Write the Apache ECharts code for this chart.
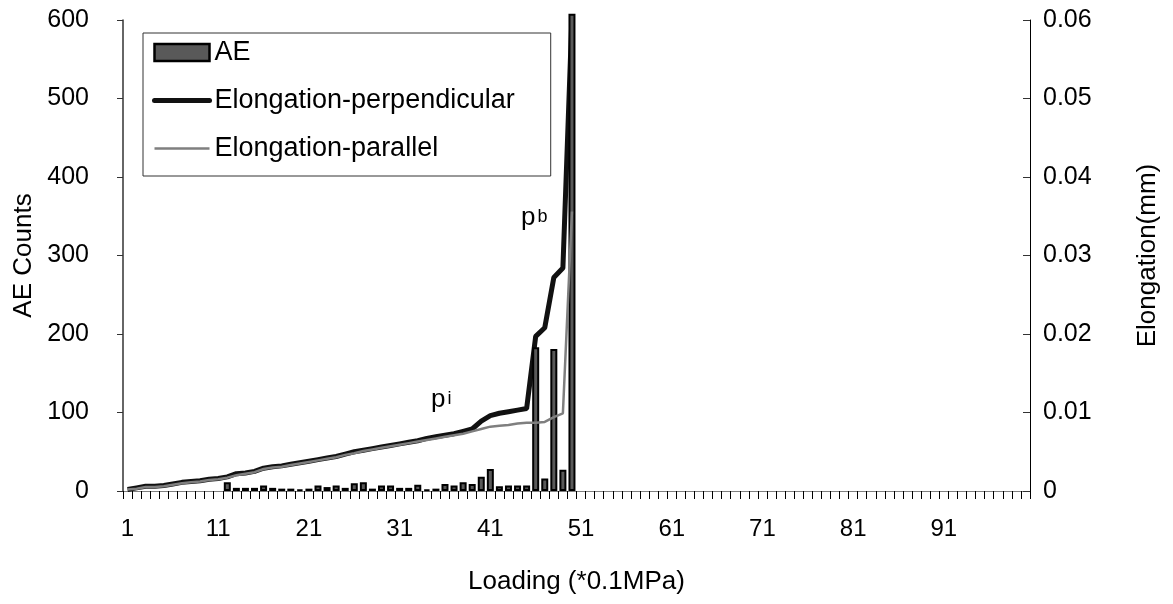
<!DOCTYPE html>
<html>
<head>
<meta charset="utf-8">
<script src="https://cdn.jsdelivr.net/npm/echarts@6/dist/echarts.min.js"></script>
<style>
    html, body {margin: 0; padding: 0; background: #fff;}
    #main {width: 1173px; height: 604px;}
</style>
</head>
<body>
<div id="main"></div>
<script>
// loading steps 1..100 (*0.1MPa)
var loading = [];
for (var i = 1; i <= 100; i++) loading.push(String(i));

// AE counts per loading step (steps 1-50), no bar drawn for steps 1-11
var aeCounts = [null, null, null, null, null, null, null, null, null, null,
    null, 11, 4, 4, 4, 7, 4, 3, 3, 2,
    3, 7, 5, 7, 4, 10, 11, 3, 7, 7,
    4, 4, 8, 2, 3, 9, 7, 11, 9, 18,
    28, 6, 7, 7, 7, 183, 16, 181, 27, 608];

// elongation (mm)
var elongPerp = [0.0002, 0.0004, 0.0006, 0.0006, 0.0007, 0.0009, 0.0011, 0.0012, 0.0013, 0.0015,
    0.0016, 0.0018, 0.0022, 0.0023, 0.0025, 0.0029, 0.0031, 0.0032, 0.0034, 0.0036,
    0.0038, 0.004, 0.0042, 0.0044, 0.0047, 0.005, 0.0052, 0.0054, 0.0056, 0.0058,
    0.006, 0.0062, 0.0064, 0.0067, 0.0069, 0.0071, 0.0073, 0.0076, 0.0079, 0.0089,
    0.0096, 0.0099, 0.0101, 0.0103, 0.0105, 0.0197, 0.0208, 0.0272, 0.0284, 0.0605];

var elongPara = [0.0002, 0.0003, 0.0005, 0.0005, 0.0006, 0.0008, 0.001, 0.0011, 0.0012, 0.0014,
    0.0015, 0.0017, 0.002, 0.0022, 0.0024, 0.0028, 0.003, 0.0031, 0.0033, 0.0035,
    0.0037, 0.0039, 0.0041, 0.0043, 0.0046, 0.0048, 0.0051, 0.0053, 0.0055, 0.0057,
    0.0059, 0.0061, 0.0063, 0.0065, 0.0067, 0.0069, 0.0071, 0.0073, 0.0076, 0.0079,
    0.0082, 0.0083, 0.0084, 0.0086, 0.0087, 0.0087, 0.0088, 0.0094, 0.0099, 0.0356];

window.onload = function () {
    var myChart = echarts.init(document.getElementById("main"));
    var font = 'Liberation Sans, Arial, sans-serif';

    var option = {
        backgroundColor: '#fff',
        animation: false,
        textStyle: {fontFamily: font},
        grid: {left: 123, right: 143, top: 20, bottom: 113},
        legend: {
            orient: 'vertical',
            left: 143,
            top: 33,
            padding: [6, 36, 14, 9],
            itemGap: 21,
            itemWidth: 55,
            itemHeight: 17,
            backgroundColor: '#fff',
            borderColor: '#333',
            borderWidth: 1,
            borderRadius: 0,
            textStyle: {fontFamily: font, fontSize: 27, color: '#000', lineHeight: 26},
            data: [
                {name: 'AE', icon: 'rect', itemStyle: {color: '#595959', borderColor: '#000', borderWidth: 2.5}},
                {name: 'Elongation-perpendicular', itemStyle: {opacity: 0}, lineStyle: {width: 5, color: '#111', cap: 'round'}},
                {name: 'Elongation-parallel', itemStyle: {opacity: 0}, lineStyle: {width: 2.5, color: '#7f7f7f'}}
            ]
        },
        xAxis: [{
            type: 'category',
            data: loading,
            name: 'Loading (*0.1MPa)',
            nameLocation: 'middle',
            nameGap: 78,
            nameTextStyle: {fontFamily: font, fontSize: 26, color: '#000'},
            axisLine: {show: true, lineStyle: {color: '#000', width: 1}},
            axisTick: {show: true, interval: 0, length: 8, lineStyle: {color: '#000', width: 1}},
            axisLabel: {interval: 9, margin: 26, fontFamily: font, fontSize: 24, color: '#000'},
            splitLine: {show: false}
        }, {
            type: 'category',
            data: loading,
            position: 'top',
            axisLine: {show: true, lineStyle: {color: '#808080', width: 1}},
            axisTick: {show: false},
            axisLabel: {show: false},
            splitLine: {show: false}
        }],
        yAxis: [{
            type: 'value',
            min: 0,
            max: 600,
            interval: 100,
            name: 'AE Counts',
            nameLocation: 'middle',
            nameRotate: 90,
            nameGap: 85,
            nameTextStyle: {fontFamily: font, fontSize: 26, color: '#000'},
            axisLine: {show: true, lineStyle: {color: '#333', width: 1.5}},
            axisTick: {show: true, length: 6, lineStyle: {color: '#333'}},
            axisLabel: {margin: 34, fontFamily: font, fontSize: 25, color: '#000'},
            splitLine: {show: false}
        }, {
            type: 'value',
            min: 0,
            max: 0.06,
            interval: 0.01,
            name: 'Elongation(mm)',
            nameLocation: 'middle',
            nameRotate: 90,
            nameGap: 105,
            nameTextStyle: {fontFamily: font, fontSize: 26, color: '#000'},
            axisLine: {show: true, lineStyle: {color: '#000', width: 1}},
            axisTick: {show: true, inside: true, length: 7, lineStyle: {color: '#333'}},
            axisLabel: {margin: 13, fontFamily: font, fontSize: 25, color: '#000',
                formatter: function (v) { return v === 0 ? '0' : v.toFixed(2); }},
            splitLine: {show: false}
        }],
        graphic: [{
            type: 'text',
            left: 431,
            top: 387,
            style: {
                text: '{a|p}{b|i}',
                rich: {
                    a: {fontFamily: font, fontSize: 26, fill: '#000'},
                    b: {fontFamily: font, fontSize: 18, fill: '#000', padding: [0, 0, 2, 2]}
                }
            }
        }, {
            type: 'text',
            left: 521,
            top: 205,
            style: {
                text: '{a|p}{b|b}',
                rich: {
                    a: {fontFamily: font, fontSize: 26, fill: '#000'},
                    b: {fontFamily: font, fontSize: 18, fill: '#000', padding: [0, 0, 2, 2]}
                }
            }
        }],
        series: [{
            name: 'AE',
            type: 'bar',
            yAxisIndex: 0,
            barWidth: 7,
            clip: false,
            z: 3,
            itemStyle: {color: '#595959', borderColor: '#000', borderWidth: 2},
            data: aeCounts
        }, {
            name: 'Elongation-perpendicular',
            type: 'line',
            yAxisIndex: 1,
            symbol: 'none',
            clip: false,
            z: 2,
            lineStyle: {color: '#111', width: 5},
            itemStyle: {color: '#111'},
            data: elongPerp
        }, {
            name: 'Elongation-parallel',
            type: 'line',
            yAxisIndex: 1,
            symbol: 'none',
            z: 4,
            lineStyle: {color: '#7f7f7f', width: 2.5},
            itemStyle: {color: '#7f7f7f'},
            data: elongPara
        }]
    };
    myChart.setOption(option);
};
</script>
</body>
</html>
